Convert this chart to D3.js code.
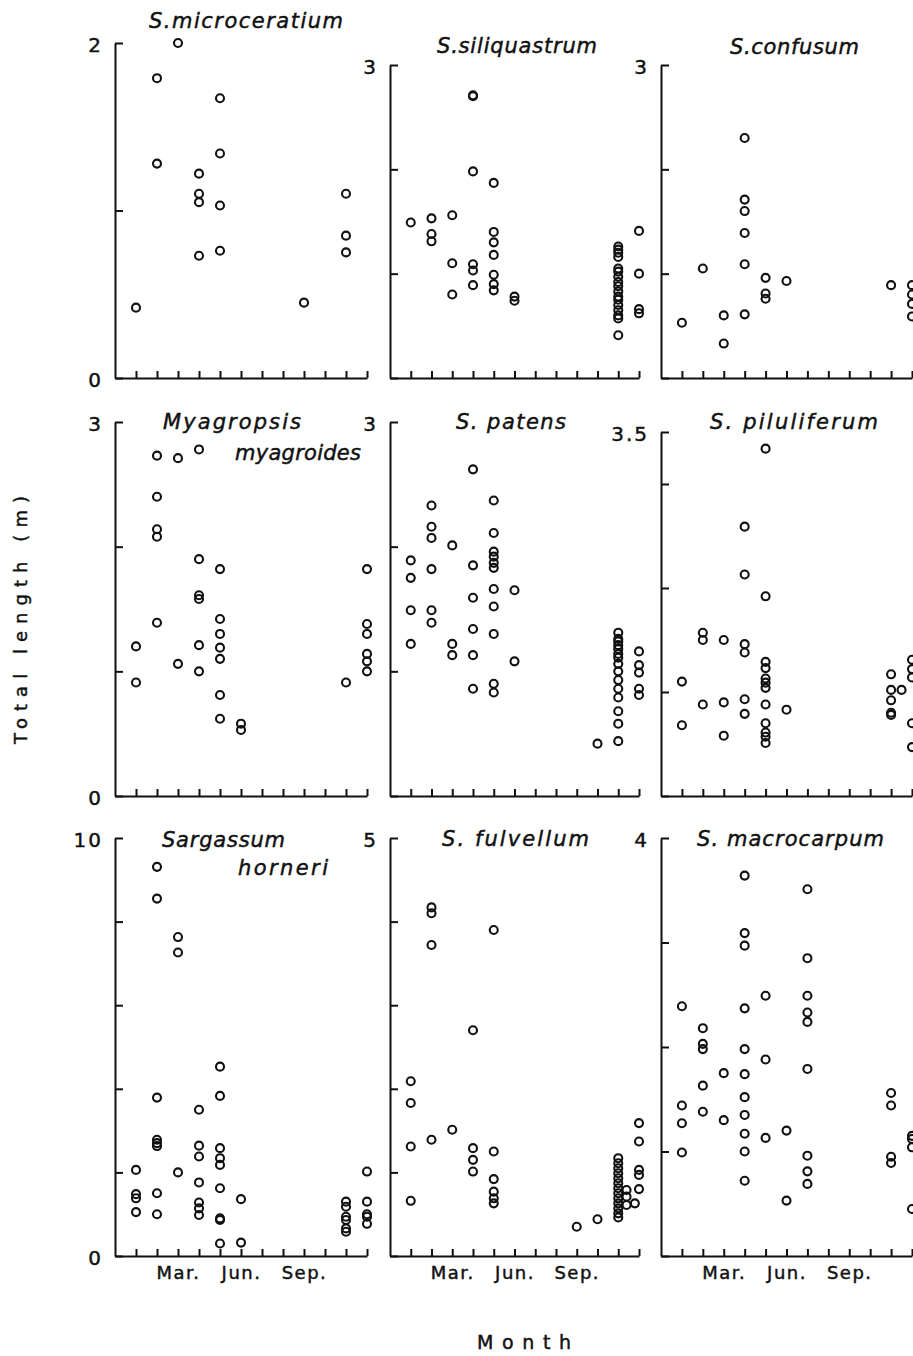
<!DOCTYPE html>
<html>
<head>
<meta charset="utf-8">
<script src="https://cdn.jsdelivr.net/npm/d3@7"></script>
<style>
  body { margin: 0; background: #fff; }
  svg { display: block; }
  text { fill: #111; stroke: #111; stroke-width: 0.45px; }
</style>
</head>
<body>
<div class="container"></div>
<script>
// seasonal total length of nine species, one panel each
// every point is [month, total length in m]

const species = [
  ['S.microceratium'],
  ['S.siliquastrum'],
  ['S.confusum'],
  ['Myagropsis', 'myagroides'],
  ['S. patens'],
  ['S. piluliferum'],
  ['Sargassum', 'horneri'],
  ['S. fulvellum'],
  ['S. macrocarpum']
];

// upper end of each vertical axis and distance between its ticks
const yMax = [2, 3, 3, 3, 3, 3.5, 10, 5, 4];
const yStep = [1, 1, 1, 1, 1, 1, 2, 1, 1];

const months = d3.range(1, 13);
const monthLabels = ['', '', 'Mar.', '', '', 'Jun.', '', '', 'Sep.', '', '', ''];

const microceratium = [
  [1, 0.42], [2, 1.79], [2, 1.28], [3, 2.0], [4, 1.22], [4, 1.10], [4, 1.05], [4, 0.73],
  [5, 1.67], [5, 1.34], [5, 1.03], [5, 0.76], [9, 0.45], [11, 1.10], [11, 0.85], [11, 0.75]
];

const siliquastrum = [
  [1, 1.49], [2, 1.53], [2, 1.38], [2, 1.31], [3, 1.56], [3, 1.10], [3, 0.80],
  [4, 2.71], [4, 2.70], [4, 1.98], [4, 1.09], [4, 1.03], [4, 0.89],
  [5, 1.87], [5, 1.40], [5, 1.30], [5, 1.18], [5, 0.99], [5, 0.90], [5, 0.84], [6, 0.78], [6, 0.74],
  [11, 1.26], [11, 1.23], [11, 1.20], [11, 1.16], [11, 1.05], [11, 1.02], [11, 0.97], [11, 0.92],
  [11, 0.88], [11, 0.83], [11, 0.78], [11, 0.75], [11, 0.70], [11, 0.65], [11, 0.60], [11, 0.57], [11, 0.41],
  [12, 1.41], [12, 1.00], [12, 0.66], [12, 0.62]
];

const confusum = [
  [1, 0.53], [2, 1.05], [3, 0.60], [3, 0.33], [4, 2.30], [4, 1.71], [4, 1.60], [4, 1.39], [4, 1.09], [4, 0.61],
  [5, 0.96], [5, 0.81], [5, 0.76], [6, 0.93], [11, 0.89], [12, 0.89], [12, 0.80], [12, 0.71], [12, 0.59]
];

const myagroides = [
  [1, 1.20], [1, 0.91], [2, 2.73], [2, 2.40], [2, 2.14], [2, 2.08], [2, 1.39], [3, 2.71], [3, 1.06],
  [4, 2.78], [4, 1.90], [4, 1.61], [4, 1.58], [4, 1.21], [4, 1.00],
  [5, 1.82], [5, 1.42], [5, 1.30], [5, 1.19], [5, 1.10], [5, 0.81], [5, 0.62], [6, 0.58], [6, 0.53],
  [11, 0.91], [12, 1.82], [12, 1.38], [12, 1.30], [12, 1.14], [12, 1.08], [12, 1.00]
];

const patens = [
  [1, 1.89], [1, 1.75], [1, 1.49], [1, 1.22], [2, 2.33], [2, 2.16], [2, 2.07], [2, 1.82], [2, 1.49], [2, 1.39],
  [3, 2.01], [3, 1.22], [3, 1.13], [4, 2.62], [4, 1.85], [4, 1.59], [4, 1.34], [4, 1.13], [4, 0.86],
  [5, 2.37], [5, 2.11], [5, 1.96], [5, 1.92], [5, 1.87], [5, 1.83], [5, 1.66], [5, 1.52], [5, 1.30], [5, 0.90], [5, 0.83],
  [6, 1.65], [6, 1.08], [10, 0.42],
  [11, 1.31], [11, 1.26], [11, 1.24], [11, 1.21], [11, 1.18], [11, 1.14], [11, 1.11], [11, 1.06],
  [11, 1.00], [11, 0.93], [11, 0.86], [11, 0.79], [11, 0.68], [11, 0.58], [11, 0.44],
  [12, 1.16], [12, 1.05], [12, 0.99], [12, 0.86], [12, 0.81]
];

const piluliferum = [
  [1, 1.10], [1, 0.68], [2, 1.57], [2, 1.50], [2, 0.88], [3, 1.50], [3, 0.90], [3, 0.58],
  [4, 2.59], [4, 2.13], [4, 1.46], [4, 1.38], [4, 0.93], [4, 0.79],
  [5, 3.34], [5, 1.92], [5, 1.29], [5, 1.23], [5, 1.13], [5, 1.09], [5, 1.04], [5, 0.88], [5, 0.70], [5, 0.61], [5, 0.57], [5, 0.51],
  [6, 0.83], [11, 1.17], [11, 1.02], [11, 0.92], [11, 0.80], [11, 0.78], [11.5, 1.02],
  [12, 1.31], [12, 1.22], [12, 1.14], [12, 0.70], [12, 0.47]
];

const horneri = [
  [1, 2.06], [1, 1.48], [1, 1.38], [1, 1.05], [2, 9.31], [2, 8.55], [2, 3.79], [2, 2.78], [2, 2.70], [2, 2.63], [2, 1.50], [2, 1.00],
  [3, 7.63], [3, 7.26], [3, 2.00], [4, 3.50], [4, 2.64], [4, 2.38], [4, 1.76], [4, 1.28], [4, 1.14], [4, 0.98],
  [5, 4.53], [5, 3.83], [5, 2.58], [5, 2.34], [5, 2.18], [5, 1.62], [5, 0.90], [5, 0.86], [5, 0.30], [6, 1.36], [6, 0.32],
  [11, 1.30], [11, 1.18], [11, 0.94], [11, 0.86], [11, 0.66], [11, 0.58],
  [12, 2.02], [12, 1.30], [12, 1.00], [12, 0.94], [12, 0.77]
];

const fulvellum = [
  [1, 2.09], [1, 1.83], [1, 1.31], [1, 0.66], [2, 4.17], [2, 4.10], [2, 3.72], [2, 1.39], [3, 1.51],
  [4, 2.70], [4, 1.29], [4, 1.15], [4, 1.01], [5, 3.90], [5, 1.25], [5, 0.92], [5, 0.77], [5, 0.69], [5, 0.63],
  [9, 0.35], [10, 0.44],
  [11, 1.17], [11, 1.11], [11, 1.05], [11, 0.99], [11, 0.93], [11, 0.87], [11, 0.81], [11, 0.75],
  [11, 0.69], [11, 0.63], [11, 0.57], [11, 0.51], [11, 0.46],
  [11.4, 0.79], [11.4, 0.71], [11.4, 0.61], [11.8, 0.63],
  [12, 1.59], [12, 1.37], [12, 1.03], [12, 0.97], [12, 0.80]
];

const macrocarpum = [
  [1, 2.39], [1, 1.44], [1, 1.27], [1, 0.99], [2, 2.18], [2, 2.03], [2, 1.98], [2, 1.63], [2, 1.38], [3, 1.75], [3, 1.30],
  [4, 3.64], [4, 3.09], [4, 2.97], [4, 2.37], [4, 1.98], [4, 1.74], [4, 1.52], [4, 1.35], [4, 1.17], [4, 1.00], [4, 0.72],
  [5, 2.49], [5, 1.88], [5, 1.13], [6, 1.20], [6, 0.53],
  [7, 3.51], [7, 2.85], [7, 2.49], [7, 2.33], [7, 2.24], [7, 1.79], [7, 0.96], [7, 0.81], [7, 0.69],
  [11, 1.56], [11, 1.44], [11, 0.95], [11, 0.89], [12, 1.15], [12, 1.12], [12, 1.04], [12, 0.45]
];

const panelData = [microceratium, siliquastrum, confusum, myagroides, patens, piluliferum, horneri, fulvellum, macrocarpum];

// page layout (pixels)
const globals = {
  width: 913,
  height: 1356,
  ink: '#111',
  font: '"DejaVu Sans", "Liberation Sans", sans-serif'
};
const colLeft = [115, 390, 661];
const colRight = [367, 639, 912];
const rowBottom = [378, 796, 1256];
const panelTop = [43, 65, 65, 422, 422, 432, 838, 838, 838];
// title lines: left edge, baseline, width
const titleBoxes = [
  [[149, 28, 194]],
  [[437, 53, 160]],
  [[730, 54, 129]],
  [[163, 429, 138], [235, 460, 126]],
  [[456, 429, 110]],
  [[710, 429, 168]],
  [[162, 847, 123], [238, 875, 90]],
  [[442, 846, 147]],
  [[697, 846, 187]]
];

const svg = d3.select('.container')
  .append('svg')
  .attr('width', globals.width)
  .attr('height', globals.height)
  .style('font-family', globals.font);

panelData.forEach((points, i) => {
  const col = i % 3;
  const row = Math.floor(i / 3);

  const x = d3.scaleLinear()
    .domain([0, 12])
    .range([colLeft[col], colRight[col]]);

  const y = d3.scaleLinear()
    .domain([0, yMax[i]])
    .range([rowBottom[row], panelTop[i]]);

  const yTicks = d3.range(0, yMax[i] + 1e-6, yStep[i]);
  if (yTicks[yTicks.length - 1] !== yMax[i]) yTicks.push(yMax[i]);

  // vertical axis: ticks point inwards, only the top (and 0 in the first column) labelled
  const yAxis = svg.append('g')
    .attr('transform', `translate(${colLeft[col]}, 0)`)
    .call(d3.axisLeft(y)
      .tickValues(yTicks)
      .tickSize(-8)
      .tickSizeOuter(0)
      .tickPadding(12)
      .tickFormat(d => (d === yMax[i] || (d === 0 && col === 0) ? d : '')));

  // horizontal axis: one tick per month
  const xAxis = svg.append('g')
    .attr('transform', `translate(0, ${rowBottom[row]})`)
    .call(d3.axisBottom(x)
      .tickValues(months)
      .tickSize(-7)
      .tickSizeOuter(0)
      .tickPadding(10)
      .tickFormat(d => (row === 2 ? monthLabels[d - 1] : '')));

  [yAxis, xAxis].forEach((axis) => {
    axis.attr('font-family', null).attr('font-size', null);
    axis.selectAll('path, line')
      .attr('stroke', globals.ink)
      .attr('stroke-width', 2);
  });

  yAxis.selectAll('text')
    .attr('font-size', 20)
    .attr('dy', '0.42em')
    .attr('letter-spacing', 2);

  xAxis.selectAll('text')
    .attr('font-size', 18)
    .attr('letter-spacing', 1.5);

  // species name in italic, stretched like the typewritten original
  titleBoxes[i].forEach((box, j) => {
    svg.append('text')
      .attr('x', box[0])
      .attr('y', box[1])
      .attr('font-size', 21)
      .attr('font-style', 'italic')
      .attr('textLength', box[2])
      .attr('lengthAdjust', 'spacing')
      .text(species[i][j]);
  });

  svg.append('g')
    .selectAll('circle')
    .data(points)
    .enter()
    .append('circle')
    .attr('cx', d => x(d[0]))
    .attr('cy', d => y(d[1]))
    .attr('r', 4)
    .attr('fill', 'none')
    .attr('stroke', globals.ink)
    .attr('stroke-width', 2.1);
});

// shared axis titles
svg.append('text')
  .attr('transform', 'translate(27, 620) rotate(-90)')
  .attr('text-anchor', 'middle')
  .attr('font-size', 18)
  .attr('textLength', 248)
  .attr('lengthAdjust', 'spacing')
  .text('Total length (m)');

svg.append('text')
  .attr('x', 477)
  .attr('y', 1349)
  .attr('font-size', 19)
  .attr('textLength', 94)
  .attr('lengthAdjust', 'spacing')
  .text('Month');
</script>
</body>
</html>
